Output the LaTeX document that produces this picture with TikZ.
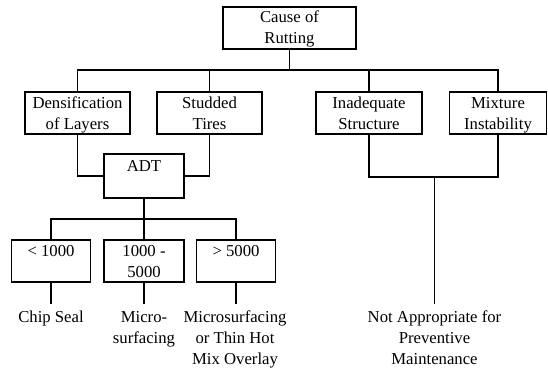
\documentclass[tikz,border=0pt]{standalone}
\usepackage{fontspec}
\setmainfont{Liberation Serif}
\usepackage{tikz}
\usetikzlibrary{positioning,calc}

\begin{document}
\begin{tikzpicture}[x=1pt, y=-1pt, line width=1.9pt,
		font=\fontsize{16.7}{21}\selectfont,
		causebox/.style={draw, align=center, inner sep=0pt, text height=34pt, text depth=2pt, minimum height=42pt},
		outcome/.style={align=center, inner xsep=0pt, inner ysep=6pt, anchor=north}]

		\useasboundingbox (0,0) rectangle (548,369);

		\node[causebox, minimum width=133pt] (cause) at (289.5,28) {Cause of\\Rutting};

		\node[causebox, minimum width=105pt] (densif) at (77.5,113) {Densification\\of Layers};
		\node[causebox, minimum width=105pt] (studded) at (209.5,113) {Studded\\Tires};
		\node[causebox, minimum width=106pt] (inadeq) at (369,113) {Inadequate\\Structure};
		\node[causebox, minimum width=97pt] (mixture) at (498,113) {Mixture\\Instability};

		\node[causebox, minimum width=80pt, minimum height=44pt] (adt) at (144,176) {ADT\\\strut};

		\node[causebox, minimum width=79pt] (low) at (51,261) {\textless{} 1000\\\strut};
		\node[causebox, minimum width=80pt] (mid) at (144,261) {1000 -\\5000};
		\node[causebox, minimum width=79pt] (high) at (236,261) {\textgreater{} 5000\\\strut};

		\node[outcome] (chip) at (51,304) {Chip Seal};
		\node[outcome] (micro) at (144,304) {Micro-\\surfacing};
		\node[outcome] (thinhot) at (235,304) {Microsurfacing\\or Thin Hot\\Mix Overlay};
		\node[outcome] (notpm) at (434.5,304) {Not Appropriate for\\Preventive\\Maintenance};

		% branch lines
		\coordinate (topbus) at (289.5,70);
		\draw (cause) -- (topbus);
		\draw (densif.north) |- (topbus) -| (mixture.north);
		\draw (studded.north) -- (studded.north |- topbus);
		\draw (inadeq.north) -- (inadeq.north |- topbus);

		\draw (densif.south) |- (adt.west);
		\draw (studded.south) |- (adt.east);

		\coordinate (adtbus) at (144,219);
		\draw (adt) -- (adtbus);
		\draw (low.north) |- (adtbus) -| (high.north);
		\draw (mid.north) -- (mid.north |- adtbus);

		\draw (low.south) -- (chip.north);
		\draw (mid.south) -- (micro.north);
		\draw (high.south) -- (high.south |- thinhot.north);

		\coordinate (rightbus) at (434.5,177);
		\draw (inadeq.south) |- (rightbus) -| (mixture.south);
		\draw (rightbus) -- (notpm.north);
	\end{tikzpicture}
\end{document}
